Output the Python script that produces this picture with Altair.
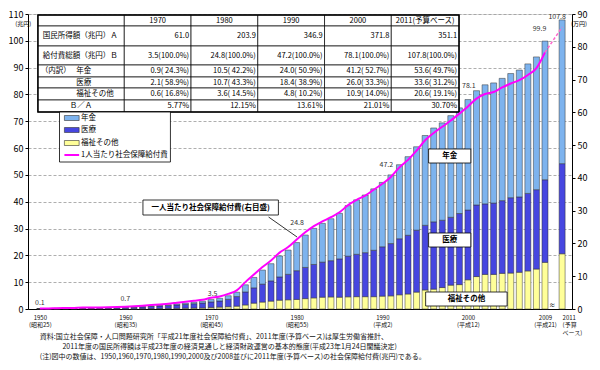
import altair as alt
import pandas as pd

FONT = "Noto Sans CJK JP"

# ---------------- data ----------------
years = list(range(1950, 2010)) + [2011]
pension = [0.00, 0.01, 0.01, 0.02, 0.02, 0.03, 0.04, 0.05, 0.06, 0.08,
           0.14, 0.16, 0.19, 0.21, 0.25, 0.32, 0.39, 0.46, 0.54, 0.67,
           0.86, 1.02, 1.32, 1.60, 2.66, 3.88, 5.23, 6.40, 7.81, 9.03,
           10.48, 12.08, 13.45, 14.46, 15.63, 16.99, 18.83, 20.30, 21.50, 22.90,
           24.00, 25.60, 27.60, 29.30, 31.10, 33.50, 35.00, 36.30, 37.90, 39.40,
           41.20, 42.60, 44.40, 44.80, 45.60, 46.30, 47.30, 48.30, 49.50, 51.70,
           53.60]
medical = [0.06, 0.08, 0.12, 0.15, 0.18, 0.24, 0.26, 0.28, 0.32, 0.36,
           0.41, 0.51, 0.62, 0.77, 0.93, 1.05, 1.24, 1.42, 1.63, 1.82,
           2.06, 2.27, 2.77, 3.58, 4.85, 5.71, 6.69, 7.55, 8.68, 9.49,
           10.72, 11.63, 12.46, 13.07, 13.52, 14.29, 15.16, 15.80, 16.40, 17.30,
           18.40, 19.50, 20.90, 21.90, 23.10, 24.10, 25.10, 25.10, 25.30, 26.50,
           26.00, 26.70, 26.30, 26.60, 27.10, 28.10, 28.10, 28.90, 29.60, 30.80,
           33.60]
welfare = [0.07, 0.07, 0.09, 0.09, 0.10, 0.12, 0.10, 0.10, 0.10, 0.11,
           0.10, 0.12, 0.14, 0.17, 0.20, 0.23, 0.26, 0.31, 0.35, 0.40,
           0.59, 0.71, 0.85, 1.06, 1.51, 2.18, 2.59, 2.94, 3.29, 3.44,
           3.57, 3.87, 4.15, 4.41, 4.50, 4.40, 4.55, 4.60, 4.60, 4.60,
           4.80, 4.90, 5.30, 5.60, 6.30, 7.10, 7.40, 8.00, 8.90, 9.10,
           10.90, 12.10, 12.90, 12.90, 13.30, 13.40, 13.70, 14.20, 14.90, 17.40,
           20.60]
categories = ["年金", "医療", "福祉その他"]
cat_colors = ["#7DB3EE", "#4646E0", "#FFFF99"]

percap_years = list(range(1950, 2010))
percap = [0.16, 0.19, 0.26, 0.30, 0.34, 0.44, 0.44, 0.47, 0.52, 0.59,
          0.70, 0.84, 1.0, 1.2, 1.4, 1.6, 1.9, 2.2, 2.5, 2.8,
          3.4, 3.8, 4.6, 5.7, 8.2, 10.5, 12.8, 14.8, 17.2, 18.9,
          21.2, 23.4, 25.3, 26.7, 28.0, 29.5, 31.7, 33.3, 34.6, 36.4,
          38.2, 40.3, 43.2, 45.5, 48.3, 51.5, 53.7, 55.6, 57.5, 59.6,
          61.8, 64.2, 65.6, 66.2, 67.6, 68.8, 69.8, 71.4, 73.5, 78.3]
percap_proj_years = [2009, 2011]
percap_proj = [78.3, 86.0]

value_labels = ["0.1", "0.7", "3.5", "24.8", "47.2", "78.1", "99.9", "107.8"]

x_tick_years = [1950, 1960, 1970, 1980, 1990, 2000, 2009, 2011]
x_tick_labels = ["1950\n(昭和25)", "1960\n(昭和35)", "1970\n(昭和45)", "1980\n(昭和55)",
                 "1990\n(平成2)", "2000\n(平成12)", "2009\n(平成21)", "2011\n(予算\nベース)"]
left_ticks = list(range(0, 111, 10))
right_ticks = list(range(0, 91, 10))

tbl_header = ["1970", "1980", "1990", "2000", "2011(予算ベース)"]
tbl_row_names = ["国民所得額（兆円）Ａ", "給付費総額（兆円）Ｂ", "（内訳）", "年金", "医療", "福祉その他", "Ｂ／Ａ"]
tbl_income = ["61.0", "203.9", "346.9", "371.8", "351.1"]
tbl_total = ["3.5(100.0%)", "24.8(100.0%)", "47.2(100.0%)", "78.1(100.0%)", "107.8(100.0%)"]
tbl_pension = ["0.9( 24.3%)", "10.5( 42.2%)", "24.0( 50.9%)", "41.2( 52.7%)", "53.6( 49.7%)"]
tbl_medical = ["2.1( 58.9%)", "10.7( 43.3%)", "18.4( 38.9%)", "26.0( 33.3%)", "33.6( 31.2%)"]
tbl_welfare = ["0.6( 16.8%)", "3.6( 14.5%)", "4.8( 10.2%)", "10.9( 14.0%)", "20.6( 19.1%)"]
tbl_ratio = ["5.77%", "12.15%", "13.61%", "21.01%", "30.70%"]

legend_texts = ["年金", "医療", "福祉その他", "1人当たり社会保障給付費"]
box_texts = ["年金", "医療", "福祉その他", "一人当たり社会保障給付費(右目盛)"]
axis_unit_left = "(兆円)"
axis_unit_right = "(万円)"
break_mark = "≈"
footnotes = [
    "資料:国立社会保障・人口問題研究所「平成21年度社会保障給付費」、2011年度(予算ベース)は厚生労働省推計、",
    "2011年度の国民所得額は平成23年度の経済見通しと経済財政運営の基本的態度(平成23年1月24日閣議決定)",
    "(注)図中の数値は、1950,1960,1970,1980,1990,2000及び2008並びに2011年度(予算ベース)の社会保障給付費(兆円)である。",
]

# ---------------- layout ----------------
X0, X1 = 1949.2, 2011.57
PXL, PXR = 28.0, 572.0
PYB, PYT = 309.0, 14.0
YMAX, RMAX = 110.0, 90.0
W, H = 544, 295


def gx(px):
    return X0 + (px - PXL) * (X1 - X0) / (PXR - PXL)


def gy(py):
    return (PYB - py) * YMAX / (PYB - PYT)


xsc = alt.Scale(domain=[X0, X1], nice=False, zero=False)
ysc = alt.Scale(domain=[0, YMAX], nice=False)
rsc = alt.Scale(domain=[0, RMAX], nice=False)

parts = []
for yv, t in zip(x_tick_years, x_tick_labels):
    arr = "[" + ",".join("'" + s + "'" for s in t.split("\n")) + "]"
    parts.append(f"datum.value == {yv} ? {arr} : ")
xlabel_expr = "".join(parts) + "''"

X_AXIS = alt.Axis(values=x_tick_years, labelExpr=xlabel_expr, ticks=False, grid=False,
                  domainColor="#000", labelFontSize=6, labelFont=FONT, labelColor="#111",
                  labelPadding=5, labelOverlap=False, labelFlush=False, labelLineHeight=7.5,
                  labelBaseline="top",
                  labelAlign={"condition": {"test": "datum.value == 2011", "value": "left"},
                              "value": "center"},
                  title=None)
Y_AXIS = alt.Axis(values=left_ticks, grid=True, gridColor="#999",
                  gridDash=[3, 2], gridWidth=0.8, domainColor="#000", tickColor="#000",
                  tickSize=3, labelFontSize=9, labelFont=FONT, labelColor="#000",
                  labelPadding=2, labelOverlap=False, title=None)
R_AXIS = alt.Axis(orient="right", values=right_ticks, grid=False, domainColor="#000",
                  tickColor="#000", tickSize=3, labelFontSize=9, labelFont=FONT,
                  labelColor="#000", labelPadding=2, labelOverlap=False, title=None)


def rect_layer(rows, fill="white", stroke="#000", sw=0.8):
    df = pd.DataFrame([{"x": gx(a), "x2": gx(b), "y": gy(c), "y2": gy(d)} for a, c, b, d in rows])
    return alt.Chart(df).mark_rect(fill=fill, stroke=stroke, strokeWidth=sw).encode(
        x=alt.X("x:Q", scale=xsc, axis=X_AXIS), x2="x2:Q",
        y=alt.Y("y:Q", scale=ysc, axis=Y_AXIS, stack=None), y2="y2:Q")


def text_layer(rows, align="left", size=7.5, weight="normal", color="#000"):
    df = pd.DataFrame([{"x": gx(a), "y": gy(b), "t": t} for a, b, t in rows])
    return alt.Chart(df).mark_text(align=align, baseline="middle", fontSize=size,
                                   fontWeight=weight, color=color, font=FONT).encode(
        x=alt.X("x:Q", scale=xsc, axis=X_AXIS),
        y=alt.Y("y:Q", scale=ysc, axis=Y_AXIS, stack=None),
        text="t:N")


def rule_layer(rows, color="#000", sw=0.8):
    df = pd.DataFrame([{"x": gx(a), "y": gy(b), "x2": gx(c), "y2": gy(d)} for a, b, c, d in rows])
    return alt.Chart(df).mark_rule(color=color, strokeWidth=sw).encode(
        x=alt.X("x:Q", scale=xsc, axis=X_AXIS), x2="x2:Q",
        y=alt.Y("y:Q", scale=ysc, axis=Y_AXIS, stack=None), y2="y2:Q")


# ---------------- bars ----------------
bar_rows = []
for i, yr in enumerate(years):
    bar_rows.append({"year": yr, "cat": categories[2], "value": welfare[i], "ord": 0})
    bar_rows.append({"year": yr, "cat": categories[1], "value": medical[i], "ord": 1})
    bar_rows.append({"year": yr, "cat": categories[0], "value": pension[i], "ord": 2})
bars_df = pd.DataFrame(bar_rows)

bars = alt.Chart(bars_df).mark_bar(size=6, stroke="#333", strokeWidth=0.5).encode(
    x=alt.X("year:Q", scale=xsc, axis=X_AXIS),
    y=alt.Y("value:Q", stack="zero", scale=ysc, axis=Y_AXIS),
    color=alt.Color("cat:N", scale=alt.Scale(domain=categories, range=cat_colors), legend=None),
    order=alt.Order("ord:Q"),
)

# ---------------- table ----------------
col_edges = [33, 121, 189, 257, 325, 393, 462]
row_edges = [15, 26, 46, 65, 77, 88, 100, 112]
cells = []
for r in range(len(row_edges) - 1):
    for c in range(len(col_edges) - 1):
        cells.append((col_edges[c], row_edges[r], col_edges[c + 1], row_edges[r + 1]))
table_cells = rect_layer(cells, fill="white", sw=0.7)
table_outline = rect_layer([(col_edges[0], row_edges[0], col_edges[-1], row_edges[-1])],
                           fill="transparent", sw=1.5)

row_mid = [(row_edges[i] + row_edges[i + 1]) / 2 for i in range(len(row_edges) - 1)]
hdr_rows = [((col_edges[c + 1] + col_edges[c + 2]) / 2, row_mid[0], tbl_header[c]) for c in range(5)]
val_rows = []
for ri, vals in enumerate([tbl_income, tbl_total, tbl_pension, tbl_medical, tbl_welfare, tbl_ratio]):
    for c in range(5):
        val_rows.append((col_edges[c + 2] - 2, row_mid[ri + 1], vals[c]))
lbl_rows = [(38, row_mid[1], tbl_row_names[0]), (38, row_mid[2], tbl_row_names[1]),
            (36, row_mid[3], tbl_row_names[2]), (72, row_mid[3], tbl_row_names[3]),
            (72, row_mid[4], tbl_row_names[4]), (72, row_mid[5], tbl_row_names[5])]
table_hdr = text_layer(hdr_rows, align="center", size=7.5)
table_vals = text_layer(val_rows, align="right", size=7.5)
table_lbls = text_layer(lbl_rows, align="left", size=7.5)
table_ratio_lbl = text_layer([(77, row_mid[6], tbl_row_names[6])], align="center", size=7.5)

# ---------------- legend ----------------
leg_box = rect_layer([(55, 112, 168, 162)], sw=0.8)
leg_y = [118, 130, 143, 155]
leg_sw = []
for i in range(3):
    leg_sw.append(rect_layer([(60, leg_y[i] - 2.5, 75, leg_y[i] + 2.5)], fill=cat_colors[i], stroke="#333", sw=0.6))
leg_line = rule_layer([(60, leg_y[3], 75, leg_y[3])], color="#FF00FF", sw=2)
leg_txt = text_layer([(77, leg_y[i], legend_texts[i]) for i in range(4)], size=7.5)

# ---------------- annotation boxes ----------------
boxes = [(431, 149, 474, 163), (431, 233, 474, 247), (428, 292, 511, 306), (140, 200, 278, 215)]
ann_box = rect_layer(boxes, sw=0.8)
ann_txt = text_layer([((b[0] + b[2]) / 2, (b[1] + b[3]) / 2, box_texts[i]) for i, b in enumerate(boxes)],
                     align="center", size=7.5, weight="bold")
leader = rule_layer([(268, 217, 297, 237)], sw=0.8)

# value labels
vl_pos = [(35, 303), (122, 299), (211, 294), (297, 223), (388, 165), (472, 86), (544, 29), (562, 17)]
val_lbl = text_layer([(p[0], p[1], value_labels[i]) for i, p in enumerate(vl_pos)],
                     align="center", size=7, color="#333")
brk = text_layer([(557, 305, break_mark)], align="center", size=6)

# axis units and footnotes
units = text_layer([(18, 24, axis_unit_left)], align="center", size=6)
units_r = text_layer([(576, 24, axis_unit_right)], align="left", size=6)
foot = text_layer([(35, 337, footnotes[0]), (58, 347, footnotes[1]), (35, 356.5, footnotes[2])],
                  size=7, color="#111")

left_group = alt.layer(bars, table_cells, table_outline, table_hdr, table_vals, table_lbls,
                       table_ratio_lbl, leg_box, *leg_sw, leg_line, leg_txt, ann_box, ann_txt, leader,
                       val_lbl, brk, units, units_r, foot)

# ---------------- per-capita line ----------------
pc_df = pd.DataFrame({"year": percap_years, "v": percap})
pp_df = pd.DataFrame({"year": percap_proj_years, "v": percap_proj})
line = alt.Chart(pc_df).mark_line(color="#FF00FF", strokeWidth=2, interpolate="monotone").encode(
    x=alt.X("year:Q", scale=xsc, axis=X_AXIS),
    y=alt.Y("v:Q", scale=rsc, axis=R_AXIS))
line_dash = alt.Chart(pp_df).mark_line(color="#FF66CC", strokeWidth=1.5, strokeDash=[3, 2]).encode(
    x=alt.X("year:Q", scale=xsc, axis=X_AXIS),
    y=alt.Y("v:Q", scale=rsc, axis=R_AXIS))
right_group = alt.layer(line, line_dash)

chart = alt.layer(left_group, right_group).resolve_scale(y="independent").properties(
    width=W, height=H,
    autosize=alt.AutoSizeParams(type="none"),
    padding={"left": 20, "top": 6, "right": 20, "bottom": 53},
).configure_view(stroke="#444", strokeWidth=1).configure(font=FONT)

chart.save("out.html", embed_options={"renderer": "svg", "actions": False})
